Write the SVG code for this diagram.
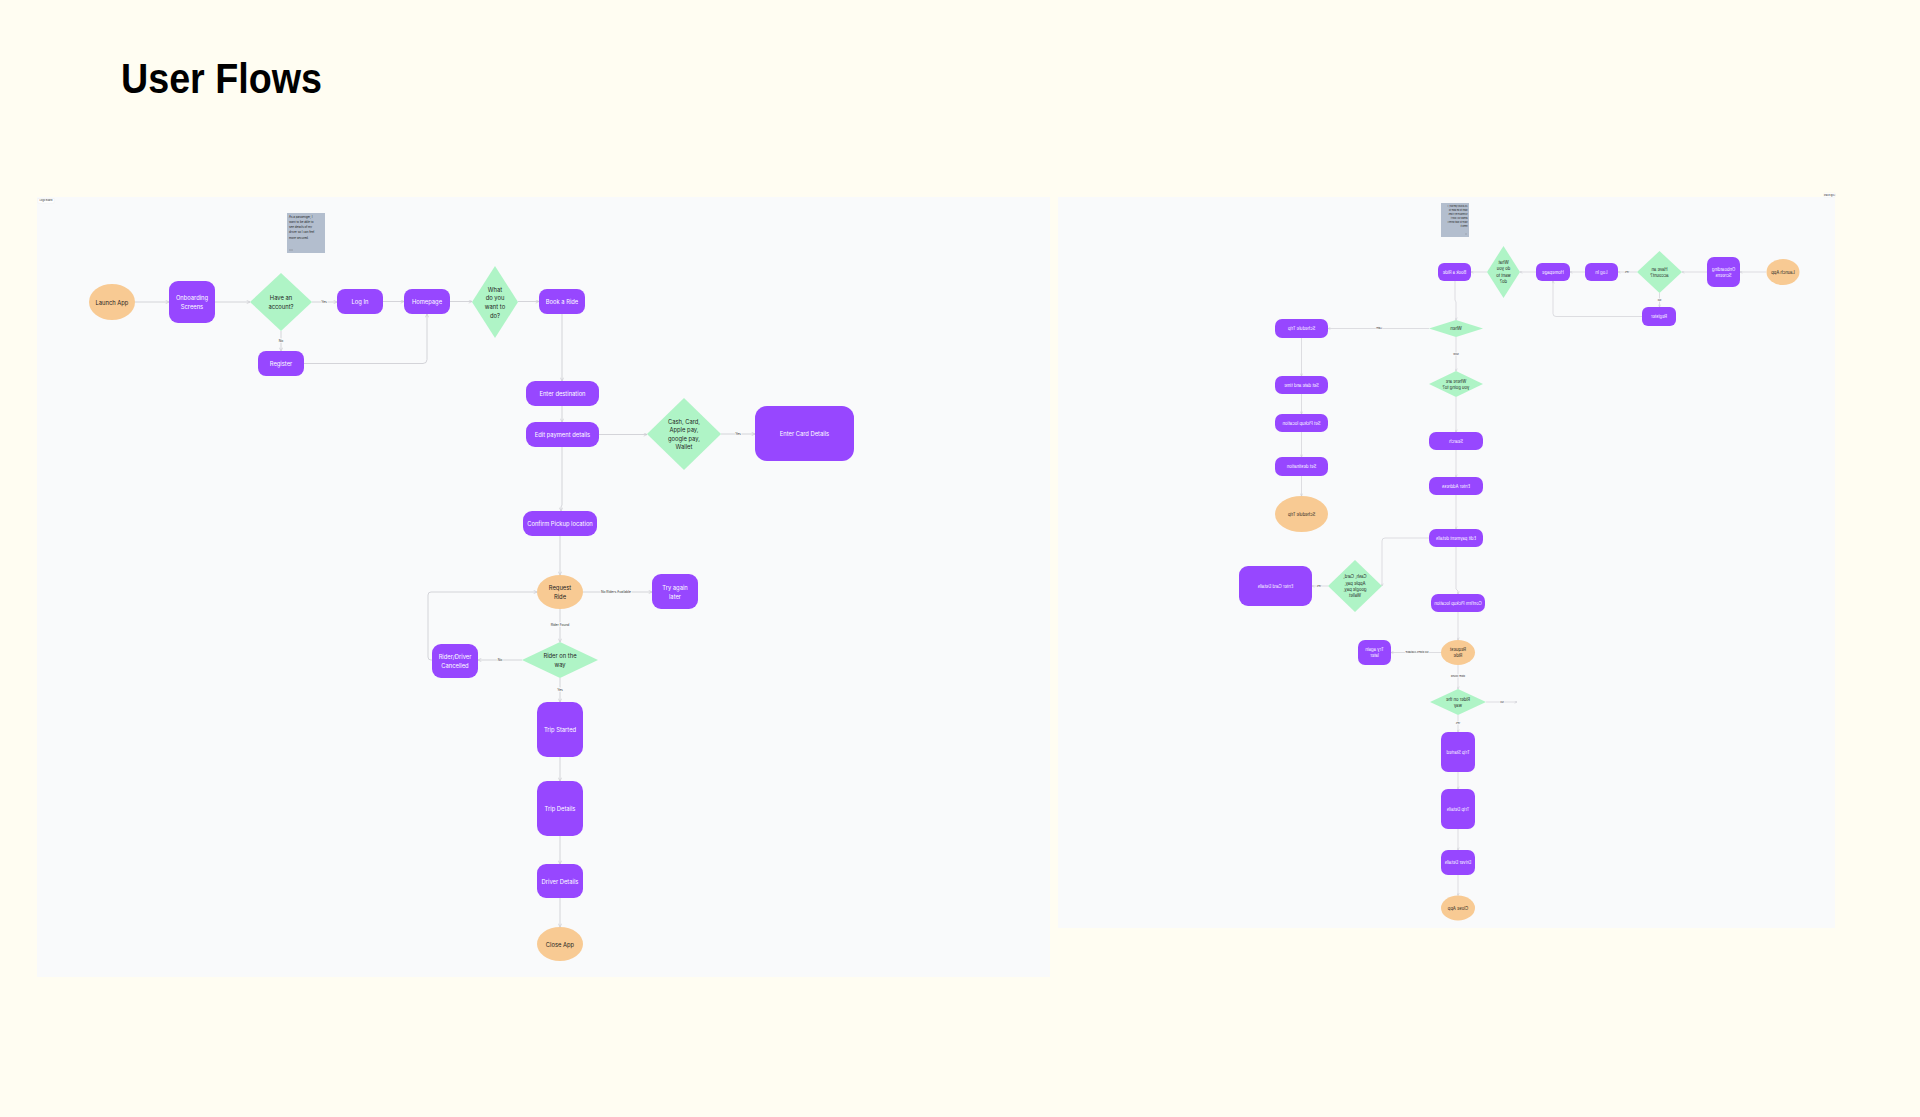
<svg xmlns="http://www.w3.org/2000/svg" width="1920" height="1117" viewBox="0 0 1920 1117">
<style>
.bg{fill:#FFFDF2}
.panel{fill:#F9FAFB}
.p{fill:#9747FF}
.o{fill:#F8CA93}
.g{fill:#AFF4C6}
.note{fill:#B3BECE}
text{font-family:Inter,'Liberation Sans',sans-serif}
.t{font-size:5.8px;text-anchor:middle;dominant-baseline:central}
.tr{font-size:4.2px;text-anchor:middle;dominant-baseline:central}
.w{fill:#FFFFFF}
.d{fill:#1E1E1E}
.c{stroke:#CACAD0;stroke-width:0.8;fill:none;marker-end:url(#arr)}
.cr{stroke:#CACAD0;stroke-width:0.6;fill:none;marker-end:url(#arr2)}
.lb{font-size:3.3px;text-anchor:middle;dominant-baseline:central;fill:#333;stroke:#F9FAFB;stroke-width:1.6;paint-order:stroke}
.lbr{font-size:2.5px;text-anchor:middle;dominant-baseline:central;fill:#333;stroke:#F9FAFB;stroke-width:1.2;paint-order:stroke}
.nt{font-size:2.9px;fill:#222}
.ntr{font-size:2.2px;fill:#222}
</style>
<defs>
<marker id="arr" viewBox="0 0 6 6" refX="5.5" refY="3" markerWidth="4" markerHeight="4" markerUnits="userSpaceOnUse" orient="auto">
<path d="M0.5,0.5 L5.5,3 L0.5,5.5" fill="none" stroke="#CACAD0" stroke-width="1"/>
</marker>
<marker id="arr2" viewBox="0 0 6 6" refX="5.5" refY="3" markerWidth="3" markerHeight="3" markerUnits="userSpaceOnUse" orient="auto">
<path d="M0.5,0.5 L5.5,3 L0.5,5.5" fill="none" stroke="#CACAD0" stroke-width="1"/>
</marker>
</defs>
<rect class="bg" x="0" y="0" width="1920" height="1117"/>
<text x="121" y="93" font-size="43" font-weight="bold" textLength="201" lengthAdjust="spacingAndGlyphs" fill="#000" style="font-family:'Liberation Sans',Arial,sans-serif">User Flows</text>

<rect class="panel" x="37" y="197" width="1013" height="780"/>
<rect class="panel" x="1058" y="197" width="777" height="731"/>

<g id="frame-label-left">
<rect x="38" y="198.5" width="16" height="4.5" fill="#FFFFFF" stroke="#DDD" stroke-width="0.2"/>
<text x="46" y="200.9" font-size="2.4" text-anchor="middle" dominant-baseline="central" fill="#333">Logo Board</text>
</g>
<g id="frame-label-right">
<rect x="1824" y="193" width="11" height="4" fill="#FFFFFF" stroke="#DDD" stroke-width="0.2"/>
<text transform="scale(-1,1)" x="-1829.5" y="195.1" font-size="2" text-anchor="middle" dominant-baseline="central" fill="#333">Logo Board</text>
</g>

<g id="connectors">
<path class="c" d="M135,302 H169"/>
<path class="c" d="M215,302 H250"/>
<path class="c" d="M312,302 H337"/>
<path class="c" d="M383,301.5 H404"/>
<path class="c" d="M450,301.5 H472"/>
<path class="c" d="M518,301.5 H539"/>
<path class="c" d="M281,331 V351"/>
<path class="c" d="M304,363.5 H423 Q427,363.5 427,359.5 V314"/>
<path class="c" d="M562,314 V381"/>
<path class="c" d="M562,406 V422"/>
<path class="c" d="M599,434.5 H647"/>
<path class="c" d="M721,434 H755"/>
<path class="c" d="M562,447 V505 L561,507 V511"/>
<path class="c" d="M560,536 V575"/>
<path class="c" d="M583,592 H652"/>
<path class="c" d="M560,609 V642"/>
<path class="c" d="M522,660 H478"/>
<path class="c" d="M432,660 H431 Q428,660 428,657 V595 Q428,592 431,592 H537"/>
<path class="c" d="M560,678 V702"/>
<path class="c" d="M560,757 V781"/>
<path class="c" d="M560,836 V864"/>
<path class="c" d="M560,898 V927"/>
<text class="lb" x="324" y="302">Yes</text>
<text class="lb" x="281" y="341">No</text>
<text class="lb" x="738" y="434">Yes</text>
<text class="lb" x="616" y="592">No Riders Available</text>
<text class="lb" x="560" y="625">Rider Found</text>
<text class="lb" x="500" y="660">No</text>
<text class="lb" x="560" y="690">Yes</text>

<path class="cr" d="M1766,272 H1740"/>
<path class="cr" d="M1707,272 H1682"/>
<path class="cr" d="M1637,272 H1618"/>
<path class="cr" d="M1585,272 H1570"/>
<path class="cr" d="M1536,272 H1520"/>
<path class="cr" d="M1487,272 H1471"/>
<path class="cr" d="M1659.5,293 V307"/>
<path class="cr" d="M1642,316.5 H1556 Q1553,316.5 1553,313.5 V281"/>
<path class="cr" d="M1455,281 V300 L1456,302 V320"/>
<path class="cr" d="M1429,328.5 H1328"/>
<path class="cr" d="M1456,337 V371"/>
<path class="cr" d="M1301.5,338 V376"/>
<path class="cr" d="M1301.5,394 V414"/>
<path class="cr" d="M1301.5,432 V457"/>
<path class="cr" d="M1301.5,476 V496"/>
<path class="cr" d="M1456,397 V432"/>
<path class="cr" d="M1456,450 V477"/>
<path class="cr" d="M1456,495 V529"/>
<path class="cr" d="M1429,538 H1385 Q1382,538 1382,541 V586"/>
<path class="cr" d="M1328,586 H1312"/>
<path class="cr" d="M1456,547 V589 L1458,591 V594"/>
<path class="cr" d="M1458,612 V640"/>
<path class="cr" d="M1441,652.5 H1391"/>
<path class="cr" d="M1458,665 V689"/>
<path class="cr" d="M1486,702 H1517"/>
<path class="cr" d="M1458,715 V732"/>
<path class="cr" d="M1458,772 V789"/>
<path class="cr" d="M1458,829 V850"/>
<path class="cr" d="M1458,875 V895.5"/>
<text class="lbr" transform="scale(-1,1)" x="-1627" y="272">Yes</text>
<text class="lbr" transform="scale(-1,1)" x="-1659.5" y="300">No</text>
<text class="lbr" transform="scale(-1,1)" x="-1379" y="328.5">Later</text>
<text class="lbr" transform="scale(-1,1)" x="-1456" y="354">Now</text>
<text class="lbr" transform="scale(-1,1)" x="-1319" y="586">Yes</text>
<text class="lbr" transform="scale(-1,1)" x="-1417" y="652.5">No Riders Available</text>
<text class="lbr" transform="scale(-1,1)" x="-1458" y="676">Rider Found</text>
<text class="lbr" transform="scale(-1,1)" x="-1502" y="702">No</text>
<text class="lbr" transform="scale(-1,1)" x="-1458" y="723">Yes</text>
</g>

<!-- LEFT FLOW -->
<g id="l-launch"><ellipse class="o" cx="112" cy="302" rx="23" ry="18"/><text class="t d" x="112" y="302">Launch App</text></g>
<g id="l-onboarding"><rect class="p" x="169" y="281" width="46" height="42" rx="9"/><text class="t w" x="192" y="297.5">Onboarding</text><text class="t w" x="192" y="306.5">Screens</text></g>
<g id="l-account"><polygon class="g" points="281,273 312,302 281,331 250,302"/><text class="t d" x="281" y="297.5">Have an</text><text class="t d" x="281" y="306.5">account?</text></g>
<g id="l-login"><rect class="p" x="337" y="289" width="46" height="25" rx="8"/><text class="t w" x="360" y="301.5">Log In</text></g>
<g id="l-homepage"><rect class="p" x="404" y="289" width="46" height="25" rx="8"/><text class="t w" x="427" y="301.5">Homepage</text></g>
<g id="l-what"><polygon class="g" points="495,266 518,302 495,338 472,302"/><text class="t d" x="495" y="289">What</text><text class="t d" x="495" y="297.7">do you</text><text class="t d" x="495" y="306.4">want to</text><text class="t d" x="495" y="315">do?</text></g>
<g id="l-book"><rect class="p" x="539" y="289" width="46" height="25" rx="8"/><text class="t w" x="562" y="301.5">Book a Ride</text></g>
<g id="l-register"><rect class="p" x="258" y="351" width="46" height="25" rx="8"/><text class="t w" x="281" y="363.5">Register</text></g>
<g id="l-note"><rect class="note" x="287" y="213" width="38" height="40"/>
<text class="nt" x="289" y="217.5">As a passenger, I</text>
<text class="nt" x="289" y="222.8">want to be able to</text>
<text class="nt" x="289" y="228.1">see details of my</text>
<text class="nt" x="289" y="233.4">driver so I can feel</text>
<text class="nt" x="289" y="238.7">more secured.</text>
<line x1="289" y1="250" x2="293" y2="250" stroke="#666" stroke-width="0.4"/></g>
<g id="l-dest"><rect class="p" x="526" y="381" width="73" height="25" rx="9"/><text class="t w" x="562.5" y="393.5">Enter destination</text></g>
<g id="l-payment"><rect class="p" x="526" y="422" width="73" height="25" rx="9"/><text class="t w" x="562.5" y="434.5">Edit payment details</text></g>
<g id="l-cash"><polygon class="g" points="684,398 721,434 684,470 647,434"/><text class="t d" x="684" y="421.1">Cash, Card,</text><text class="t d" x="684" y="429.7">Apple pay,</text><text class="t d" x="684" y="438.3">google pay,</text><text class="t d" x="684" y="446.9">Wallet</text></g>
<g id="l-card"><rect class="p" x="755" y="406" width="99" height="55" rx="12"/><text class="t w" x="804.5" y="433.5">Enter Card Details</text></g>
<g id="l-confirm"><rect class="p" x="523" y="511" width="74" height="25" rx="9"/><text class="t w" x="560" y="523.5">Confirm Pickup location</text></g>
<g id="l-request"><ellipse class="o" cx="560" cy="592" rx="23" ry="17"/><text class="t d" x="560" y="587.7">Request</text><text class="t d" x="560" y="596.3">Ride</text></g>
<g id="l-tryagain"><rect class="p" x="652" y="574" width="46" height="35" rx="9"/><text class="t w" x="675" y="587.7">Try again</text><text class="t w" x="675" y="596.3">later</text></g>
<g id="l-rider"><polygon class="g" points="560,642 598,660 560,678 522,660"/><text class="t d" x="560" y="655.7">Rider on the</text><text class="t d" x="560" y="664.4">way</text></g>
<g id="l-cancelled"><rect class="p" x="432" y="644" width="46" height="34" rx="9"/><text class="t w" x="455" y="656.8">Rider/Driver</text><text class="t w" x="455" y="665.5">Cancelled</text></g>
<g id="l-tripstarted"><rect class="p" x="537" y="702" width="46" height="55" rx="10"/><text class="t w" x="560" y="729.5">Trip Started</text></g>
<g id="l-tripdetails"><rect class="p" x="537" y="781" width="46" height="55" rx="10"/><text class="t w" x="560" y="808.5">Trip Details</text></g>
<g id="l-driverdetails"><rect class="p" x="537" y="864" width="46" height="34" rx="9"/><text class="t w" x="560" y="881">Driver Details</text></g>
<g id="l-close"><ellipse class="o" cx="560" cy="944" rx="23" ry="17"/><text class="t d" x="560" y="944">Close App</text></g>

<!-- RIGHT FLOW (mirrored) -->
<g id="r-launch"><ellipse class="o" cx="1783" cy="272" rx="16.5" ry="13"/><text class="tr d" transform="scale(-1,1)" x="-1783" y="272">Launch App</text></g>
<g id="r-onboarding"><rect class="p" x="1707" y="257" width="33" height="30" rx="7"/><text class="tr w" transform="scale(-1,1)" x="-1723.5" y="269">Onboarding</text><text class="tr w" transform="scale(-1,1)" x="-1723.5" y="275.5">Screens</text></g>
<g id="r-account"><polygon class="g" points="1659.5,251 1682,272 1659.5,293 1637,272"/><text class="tr d" transform="scale(-1,1)" x="-1659.5" y="269">Have an</text><text class="tr d" transform="scale(-1,1)" x="-1659.5" y="275.5">account?</text></g>
<g id="r-login"><rect class="p" x="1585" y="263" width="33" height="18" rx="6"/><text class="tr w" transform="scale(-1,1)" x="-1601.5" y="272">Log In</text></g>
<g id="r-homepage"><rect class="p" x="1536" y="263" width="34" height="18" rx="6"/><text class="tr w" transform="scale(-1,1)" x="-1553" y="272">Homepage</text></g>
<g id="r-what"><polygon class="g" points="1503.5,246 1520,272 1503.5,298 1487,272"/><text class="tr d" transform="scale(-1,1)" x="-1503.5" y="262.3">What</text><text class="tr d" transform="scale(-1,1)" x="-1503.5" y="268.8">do you</text><text class="tr d" transform="scale(-1,1)" x="-1503.5" y="275.3">want to</text><text class="tr d" transform="scale(-1,1)" x="-1503.5" y="281.8">do?</text></g>
<g id="r-book"><rect class="p" x="1438" y="263" width="33" height="18" rx="6"/><text class="tr w" transform="scale(-1,1)" x="-1454.5" y="272">Book a Ride</text></g>
<g id="r-register"><rect class="p" x="1642" y="307" width="34" height="19" rx="6"/><text class="tr w" transform="scale(-1,1)" x="-1659" y="316.5">Register</text></g>
<g id="r-note"><rect class="note" x="1441" y="203" width="28" height="34"/>
<text class="ntr" transform="scale(-1,1)" x="-1467.5" y="207">As a busy person, I</text>
<text class="ntr" transform="scale(-1,1)" x="-1467.5" y="211">want to be able to</text>
<text class="ntr" transform="scale(-1,1)" x="-1467.5" y="215">schedule my rides</text>
<text class="ntr" transform="scale(-1,1)" x="-1467.5" y="219">ahead so I don't</text>
<text class="ntr" transform="scale(-1,1)" x="-1467.5" y="223">have to wait when I</text>
<text class="ntr" transform="scale(-1,1)" x="-1467.5" y="227">need it.</text>
<line x1="1465" y1="234" x2="1467" y2="234" stroke="#666" stroke-width="0.3"/></g>
<g id="r-when"><polygon class="g" points="1456,320 1483,328.5 1456,337 1429,328.5"/><text class="tr d" transform="scale(-1,1)" x="-1456" y="328.5">When</text></g>
<g id="r-schedule"><rect class="p" x="1275" y="319" width="53" height="19" rx="7"/><text class="tr w" transform="scale(-1,1)" x="-1301.5" y="328.5">Schedule Trip</text></g>
<g id="r-where"><polygon class="g" points="1456,371 1483,384 1456,397 1429,384"/><text class="tr d" transform="scale(-1,1)" x="-1456" y="381">Where are</text><text class="tr d" transform="scale(-1,1)" x="-1456" y="387.5">you going to?</text></g>
<g id="r-datetime"><rect class="p" x="1275" y="376" width="53" height="18" rx="7"/><text class="tr w" transform="scale(-1,1)" x="-1301.5" y="385">Set date and time</text></g>
<g id="r-setpickup"><rect class="p" x="1275" y="414" width="53" height="18" rx="7"/><text class="tr w" transform="scale(-1,1)" x="-1301.5" y="423">Set Pickup location</text></g>
<g id="r-setdest"><rect class="p" x="1275" y="457" width="53" height="19" rx="7"/><text class="tr w" transform="scale(-1,1)" x="-1301.5" y="466.5">Set destination</text></g>
<g id="r-scheduleend"><ellipse class="o" cx="1301.5" cy="514" rx="26.5" ry="18"/><text class="tr d" transform="scale(-1,1)" x="-1301.5" y="514">Schedule Trip</text></g>
<g id="r-search"><rect class="p" x="1429" y="432" width="54" height="18" rx="7"/><text class="tr w" transform="scale(-1,1)" x="-1456" y="441">Search</text></g>
<g id="r-address"><rect class="p" x="1429" y="477" width="54" height="18" rx="7"/><text class="tr w" transform="scale(-1,1)" x="-1456" y="486">Enter Address</text></g>
<g id="r-payment"><rect class="p" x="1429" y="529" width="54" height="18" rx="7"/><text class="tr w" transform="scale(-1,1)" x="-1456" y="538">Edit payment details</text></g>
<g id="r-cash"><polygon class="g" points="1355,560 1382,586 1355,612 1328,586"/><text class="tr d" transform="scale(-1,1)" x="-1355" y="576.7">Cash, Card,</text><text class="tr d" transform="scale(-1,1)" x="-1355" y="583">Apple pay,</text><text class="tr d" transform="scale(-1,1)" x="-1355" y="589.4">google pay,</text><text class="tr d" transform="scale(-1,1)" x="-1355" y="595.8">Wallet</text></g>
<g id="r-card"><rect class="p" x="1239" y="566" width="73" height="40" rx="9"/><text class="tr w" transform="scale(-1,1)" x="-1275.5" y="586">Enter Card Details</text></g>
<g id="r-confirm"><rect class="p" x="1431" y="594" width="54" height="18" rx="7"/><text class="tr w" transform="scale(-1,1)" x="-1458" y="603">Confirm Pickup location</text></g>
<g id="r-request"><ellipse class="o" cx="1458" cy="652.5" rx="17" ry="12.5"/><text class="tr d" transform="scale(-1,1)" x="-1458" y="649">Request</text><text class="tr d" transform="scale(-1,1)" x="-1458" y="655.7">Ride</text></g>
<g id="r-tryagain"><rect class="p" x="1358" y="640" width="33" height="25" rx="7"/><text class="tr w" transform="scale(-1,1)" x="-1374.5" y="649">Try again</text><text class="tr w" transform="scale(-1,1)" x="-1374.5" y="655.7">later</text></g>
<g id="r-rider"><polygon class="g" points="1458,689 1486,702 1458,715 1430,702"/><text class="tr d" transform="scale(-1,1)" x="-1458" y="699">Rider on the</text><text class="tr d" transform="scale(-1,1)" x="-1458" y="705.3">way</text></g>
<g id="r-tripstarted"><rect class="p" x="1441" y="732" width="34" height="40" rx="7"/><text class="tr w" transform="scale(-1,1)" x="-1458" y="752">Trip Started</text></g>
<g id="r-tripdetails"><rect class="p" x="1441" y="789" width="34" height="40" rx="7"/><text class="tr w" transform="scale(-1,1)" x="-1458" y="809">Trip Details</text></g>
<g id="r-driverdetails"><rect class="p" x="1441" y="850" width="34" height="25" rx="7"/><text class="tr w" transform="scale(-1,1)" x="-1458" y="862.5">Driver Details</text></g>
<g id="r-close"><ellipse class="o" cx="1458" cy="908" rx="17" ry="12.5"/><text class="tr d" transform="scale(-1,1)" x="-1458" y="908">Close App</text></g>
</svg>
